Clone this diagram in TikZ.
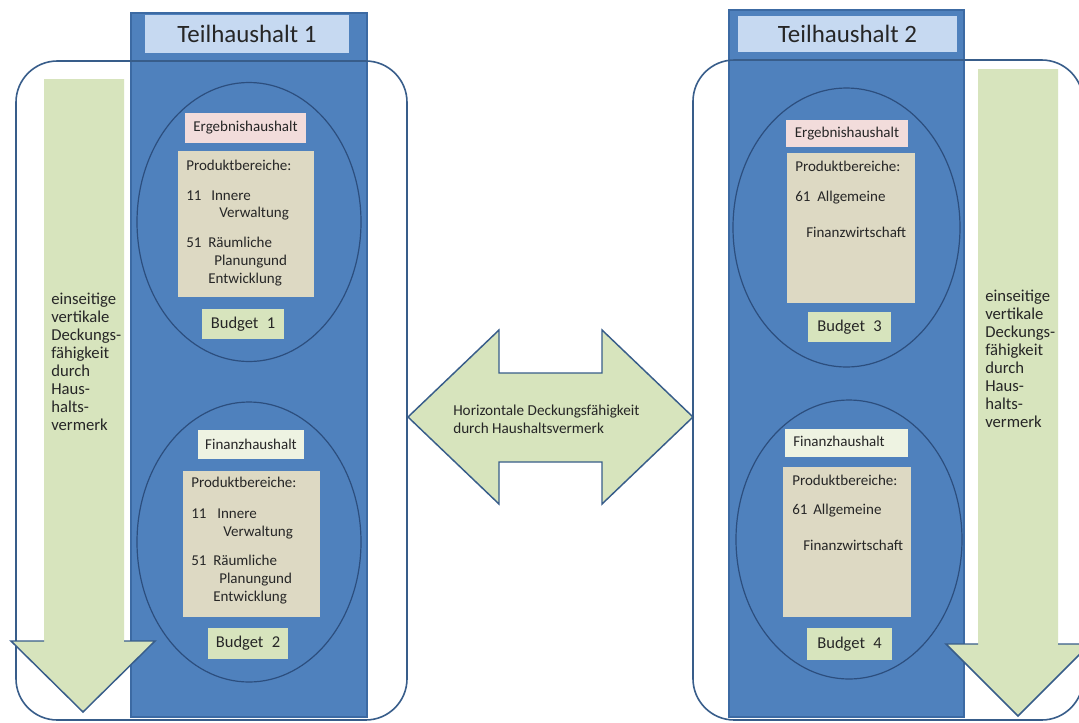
\documentclass[tikz,border=0pt]{standalone}
\usepackage{fontspec}
\setmainfont{Carlito}
\usetikzlibrary{shapes.geometric}
\definecolor{panelblue}{HTML}{4F81BD}
\definecolor{panelborder}{HTML}{3C6AA3}
\definecolor{framecol}{HTML}{385D8A}
\definecolor{ellcol}{HTML}{2C4E7E}
\definecolor{headfill}{HTML}{C6D9F1}
\definecolor{pinkfill}{HTML}{F2DCDB}
\definecolor{prodfill}{HTML}{DDD9C3}
\definecolor{greenfill}{HTML}{D7E4BD}
\definecolor{palefill}{HTML}{EEF3E2}
\definecolor{txt}{HTML}{262626}
\begin{document}
\begin{tikzpicture}[x=0.75pt,y=-0.75pt,
  bx/.style n args={2}{minimum width=#1*0.75pt, minimum height=#2*0.75pt, inner sep=0pt, outer sep=0pt},
  panel/.style={fill=panelblue, draw=panelborder, line width=1pt},
  header/.style={fill=headfill, text=txt, font=\fontsize{18.7}{22}\selectfont},
  framebox/.style={draw=framecol, line width=1.2pt, rounded corners=31pt},
  ell/.style={ellipse, draw=ellcol, line width=0.9pt, inner sep=0pt},
  lbl/.style={text=txt, font=\fontsize{11.25}{13.5}\selectfont},
  line/.style={lbl, anchor=west, inner sep=0pt, text height=1.5ex, text depth=.25ex},
  budget/.style={fill=greenfill, text=txt, font=\fontsize{12.4}{14}\selectfont},
  arrowfill/.style={fill=greenfill},
  arrowline/.style={draw=framecol, line width=1.1pt, line join=miter},
  side/.style={text=txt, font=\fontsize{12.5}{13.5}\selectfont, align=left, anchor=west, inner sep=0pt}
]
\useasboundingbox (0,0) rectangle (1079,722);
\clip (0,0) rectangle (1079,722);
\fill[white] (0,0) rectangle (1079,722);

% panels
\node[panel, bx={236}{704}] (p1) at (249,365) {};
\node[panel, bx={235}{707}] (p2) at (846.5,363.5) {};
\node[header, bx={204}{38}] (h1) at (247,34) {Teilhaushalt 1};
\node[header, bx={219}{36}] (h2) at (847.5,34) {Teilhaushalt 2};

% rounded frames
\draw[framebox] (16,61) rectangle (407,720);
\draw[framebox] (693,60) rectangle (1083,720);

% ellipses
\node[ell, bx={224}{279}] (e1) at (249,222) {};
\node[ell, bx={224}{280}] (e2) at (249,542) {};
\node[ell, bx={227}{279}] (e3) at (846.5,227.5) {};
\node[ell, bx={226}{279}] (e4) at (849,539.5) {};

% left upper
\node[fill=pinkfill, lbl, bx={121}{30}] (eh1) at (245.5,128) {Ergebnishaushalt};
\node[fill=prodfill, bx={136}{146}] (pb1) at (246,224) {};
\node[line] (pb1a) at (186,167) {Produktbereiche:};
\node[line] (pb1b) at (186,197) {11};
\node[line] (pb1c) at (211,197) {Innere};
\node[line] (pb1d) at (219,214) {Verwaltung};
\node[line] (pb1e) at (186,244) {51};
\node[line] (pb1f) at (208,244) {Räumliche};
\node[line] (pb1g) at (214,262) {Planungund};
\node[line] (pb1h) at (208,280) {Entwicklung};
\node[budget, bx={82}{30}] (b1) at (243,324) {Budget\enspace1};

% left lower
\node[fill=palefill, lbl, bx={106}{29}] (fh1) at (251,444.5) {Finanzhaushalt};
\node[fill=prodfill, bx={137}{146}] (pb2) at (251.5,544) {};
\node[line] (pb2a) at (191,484) {Produktbereiche:};
\node[line] (pb2b) at (191,515) {11};
\node[line] (pb2c) at (217,515) {Innere};
\node[line] (pb2d) at (223,533) {Verwaltung};
\node[line] (pb2e) at (191,562) {51};
\node[line] (pb2f) at (213,562) {Räumliche};
\node[line] (pb2g) at (219,580) {Planungund};
\node[line] (pb2h) at (213,598) {Entwicklung};
\node[budget, bx={80}{31}] (b2) at (248,643.5) {Budget\enspace2};

% right upper
\node[fill=pinkfill, lbl, bx={122}{27}] (eh2) at (847,133.5) {Ergebnishaushalt};
\node[fill=prodfill, bx={128}{150}] (pb3) at (851,228) {};
\node[line] (pb3a) at (795,168) {Produktbereiche:};
\node[line] (pb3b) at (795,198) {61};
\node[line] (pb3c) at (817,198) {Allgemeine};
\node[line] (pb3d) at (806,234) {Finanzwirtschaft};
\node[budget, bx={83}{30}] (b3) at (849.5,327) {Budget\enspace3};

% right lower
\node[fill=palefill, bx={123}{28}] (fh2) at (846.5,443) {};
\node[line] (fh2t) at (793,443) {Finanzhaushalt};
\node[fill=prodfill, bx={128}{150}] (pb4) at (847,542) {};
\node[line] (pb4a) at (792,482) {Produktbereiche:};
\node[line] (pb4b) at (792,511) {61};
\node[line] (pb4c) at (813,511) {Allgemeine};
\node[line] (pb4d) at (803,547) {Finanzwirtschaft};
\node[budget, bx={85}{32}] (b4) at (849.5,644) {Budget\enspace4};

% left vertical arrow
\fill[arrowfill] (44,79) -- (124,79) -- (124,641) -- (155,641) -- (83,712) -- (11,641) -- (44,641) -- cycle;
\draw[arrowline] (44,641) -- (11,641) -- (83,712) -- (155,641) -- (124,641);
\node[side] (vt1) at (51,362) {einseitige\\vertikale\\Deckungs-\\fähigkeit\\durch\\Haus-\\halts-\\vermerk};

% right vertical arrow
\fill[arrowfill] (978,69) -- (1058,69) -- (1058,644) -- (1090,644) -- (1018,716) -- (946,644) -- (978,644) -- cycle;
\draw[arrowline] (978,644) -- (946,644) -- (1018,716) -- (1090,644) -- (1058,644);
\node[side] (vt2) at (985,358.5) {einseitige\\vertikale\\Deckungs-\\fähigkeit\\durch\\Haus-\\halts-\\vermerk};

% horizontal double arrow
\filldraw[arrowfill, arrowline] (408,417) -- (499,330) -- (499,373) -- (602,373) -- (602,330) -- (693,417) -- (602,504) -- (602,462) -- (499,462) -- (499,504) -- cycle;
\node[side, font=\fontsize{11.4}{13.5}\selectfont] (ht) at (453,419) {Horizontale Deckungsfähigkeit\\durch Haushaltsvermerk};
\end{tikzpicture}
\end{document}
